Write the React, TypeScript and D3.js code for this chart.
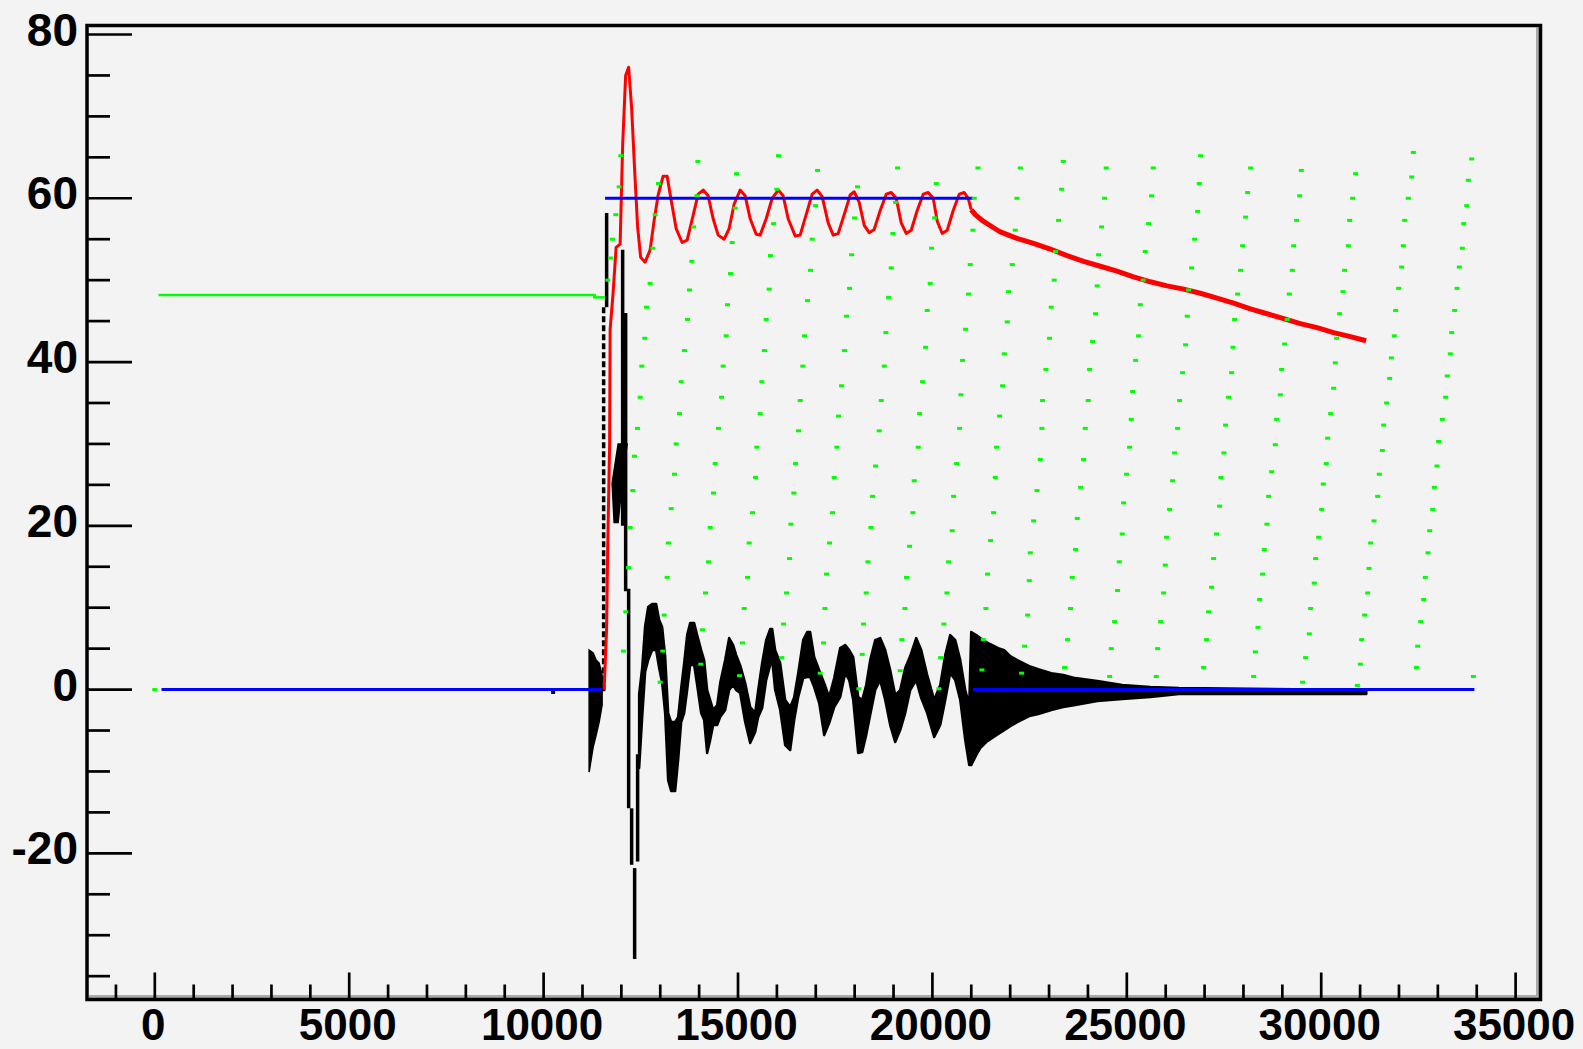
import React from 'react';
import * as d3 from 'd3';

// ---------- axes ----------
const X_DOMAIN: [number, number] = [-1744, 35640];
const Y_DOMAIN: [number, number] = [-37.85, 81.1];
const xMajorTicks = [0, 5000, 10000, 15000, 20000, 25000, 30000, 35000];
const xTickLabels = ['0', '5000', '10000', '15000', '20000', '25000', '30000', '35000'];
const xMinorTicks = [-1000, 1000, 2000, 3000, 4000, 6000, 7000, 8000, 9000, 11000, 12000, 13000, 14000,
  16000, 17000, 18000, 19000, 21000, 22000, 23000, 24000, 26000, 27000, 28000, 29000, 31000, 32000,
  33000, 34000];
const yMajorTicks = [-20, 0, 20, 40, 60, 80];
const yTickLabels = ['-20', '0', '20', '40', '60', '80'];
const yMinorTicks = [-35, -30, -25, -15, -10, -5, 5, 10, 15, 25, 30, 35, 45, 50, 55, 65, 70, 75];

// ---------- blue (set point) ----------
const blueStartT = [172, 11580, 21042];
const blueEndT = [11505, 21042, 33940];
const blueValue = [0, 60, 0];

// ---------- green (flat part before start) ----------
const greenLineStartT = [95, 11270];
const greenLineEndT = [11345, 11580];
const greenLineValue = [48.2, 47.9];

// ---------- green sampled points ----------
const greenDots: [number, number][] = [
  [0, 0],
  [11986, 65.2], [11943, 61.4], [11857, 58.0], [11771, 55.0], [11728, 52.7], [11651, 50.0],
  [12955, 61.8], [12869, 58.0], [12809, 53.9], [12740, 49.6], [12646, 46.7], [12603, 42.9], [12526, 39.5],
  [12483, 35.7], [12415, 31.9], [12337, 28.5], [12294, 24.3], [12226, 19.8], [12183, 14.9], [12114, 9.5], [12054, 4.7],
  [13967, 64.5], [13941, 60.3], [13855, 56.5], [13812, 52.3], [13752, 48.8], [13701, 45.2], [13624, 41.4],
  [13538, 37.6], [13495, 33.7], [13409, 30.0], [13366, 26.3], [13281, 22.1], [13212, 17.9], [13178, 13.7],
  [13101, 9.1], [13066, 4.7], [12998, 0.9],
  [14962, 63.0], [14927, 58.8], [14850, 54.6], [14807, 50.8], [14730, 47.0], [14696, 43.2], [14619, 39.5],
  [14576, 35.7], [14498, 31.9], [14413, 27.6], [14370, 24.0], [14284, 19.8], [14241, 15.6], [14164, 11.8],
  [14087, 7.3], [14044, 3.1],
  [16042, 65.2], [15999, 61.1], [15914, 56.9], [15836, 53.0], [15802, 48.9], [15725, 45.2], [15682, 41.4],
  [15613, 37.6], [15570, 33.7], [15485, 29.6], [15450, 25.9], [15373, 21.6], [15287, 17.9], [15245, 13.7],
  [15159, 9.9], [15116, 5.7], [15039, 1.7],
  [17046, 63.4], [16994, 59.1], [16908, 55.0], [16865, 51.2], [16788, 47.5], [16711, 43.2], [16668, 39.5],
  [16600, 35.3], [16557, 31.6], [16480, 27.6], [16437, 24.0], [16359, 20.2], [16325, 16.0], [16248, 11.8],
  [16171, 8.0], [16128, 3.9],
  [18075, 61.4], [17997, 57.6], [17920, 53.1], [17869, 49.0], [17792, 45.6], [17740, 41.4], [17663, 37.1],
  [17586, 33.4], [17543, 29.6], [17474, 25.9], [17431, 21.6], [17354, 17.9], [17277, 14.1], [17234, 9.9],
  [17200, 5.7], [17114, 2.0],
  [19104, 63.7], [19052, 59.5], [18984, 55.7], [18941, 51.5], [18872, 47.9], [18804, 43.6], [18761, 39.5],
  [18684, 35.3], [18632, 31.6], [18538, 27.3], [18461, 23.6], [18418, 19.8], [18341, 15.6], [18298, 11.8],
  [18229, 8.0], [18195, 4.3], [18109, 0.1],
  [20099, 61.8], [20056, 57.6], [19979, 53.9], [19944, 49.6], [19867, 46.3], [19824, 41.8], [19747, 37.6],
  [19670, 33.7], [19635, 29.6], [19533, 25.5], [19498, 21.6], [19413, 17.5], [19335, 13.7], [19292, 9.9],
  [19215, 6.1], [19172, 2.3],
  [21171, 63.7], [21076, 60.0], [21042, 56.1], [20973, 51.9], [20930, 48.3], [20853, 44.0], [20776, 40.2],
  [20733, 36.0], [20699, 31.9], [20622, 27.6], [20545, 23.6], [20510, 19.4], [20416, 15.6], [20373, 11.8],
  [20296, 8.0], [20210, 3.9], [20167, 0.1],
  [22260, 63.7], [22174, 60.0], [22131, 56.1], [22054, 51.9], [21960, 48.6], [21925, 44.9], [21848, 41.0],
  [21805, 37.1], [21728, 33.4], [21651, 29.6], [21617, 25.9], [21574, 21.6], [21497, 18.2], [21419, 14.1],
  [21376, 9.9], [21308, 6.1], [21274, 2.4],
  [23365, 64.5], [23322, 61.1], [23245, 57.3], [23167, 53.5], [23133, 50.0], [23056, 46.7], [23013, 42.9],
  [22919, 39.1], [22833, 35.3], [22816, 31.9], [22773, 28.1], [22689, 24.3], [22603, 20.6], [22517, 16.7],
  [22491, 13.3], [22449, 9.1], [22371, 5.3], [22294, 2.0],
  [24471, 63.7], [24428, 60.0], [24351, 56.5], [24274, 53.1], [24239, 49.3], [24197, 45.9], [24119, 42.5],
  [24042, 39.1], [24008, 35.3], [23931, 31.9], [23888, 28.1], [23811, 24.7], [23725, 20.9], [23682, 17.1],
  [23596, 13.7], [23553, 9.9], [23476, 6.1], [23399, 2.7],
  [25680, 63.7], [25637, 60.3], [25560, 56.9], [25474, 53.5], [25423, 50.0], [25346, 47.0], [25303, 43.2],
  [25226, 40.2], [25149, 36.4], [25114, 33.0], [25071, 29.6], [24994, 26.3], [24917, 22.8], [24883, 19.0],
  [24806, 15.6], [24763, 12.1], [24685, 8.3], [24600, 5.0], [24557, 1.6],
  [26898, 65.2], [26864, 61.8], [26821, 58.4], [26744, 55.0], [26667, 51.5], [26589, 48.8], [26555, 45.6],
  [26512, 42.1], [26435, 38.7], [26358, 35.3], [26306, 31.9], [26229, 28.9], [26178, 25.5], [26100, 22.0],
  [26023, 18.6], [25989, 15.2], [25946, 11.8], [25869, 8.3], [25792, 5.0], [25757, 1.6],
  [28184, 63.7], [28107, 60.7], [28056, 57.7], [27979, 54.2], [27927, 51.2], [27850, 48.3], [27773, 45.2],
  [27730, 41.8], [27696, 38.7], [27618, 35.7], [27541, 32.3], [27498, 28.9], [27421, 25.9], [27387, 22.4],
  [27310, 19.0], [27233, 16.0], [27181, 12.5], [27104, 9.5], [27052, 6.1], [26975, 2.7],
  [29488, 63.4], [29445, 60.3], [29368, 57.3], [29291, 54.2], [29256, 51.2], [29179, 48.3], [29128, 45.2],
  [29059, 42.2], [28982, 39.1], [28948, 36.0], [28853, 33.0], [28819, 29.9], [28725, 26.6], [28648, 23.6],
  [28605, 20.2], [28536, 17.1], [28493, 14.1], [28416, 11.0], [28373, 7.6], [28305, 4.6], [28262, 1.6],
  [30886, 63.0], [30809, 60.0], [30732, 57.3], [30697, 54.2], [30603, 51.2], [30560, 48.6], [30474, 45.9],
  [30397, 42.9], [30363, 39.9], [30320, 36.8], [30243, 33.7], [30166, 30.7], [30131, 27.6], [30054, 25.1],
  [30011, 22.0], [29934, 18.6], [29857, 16.0], [29822, 13.0], [29728, 9.9], [29694, 6.8], [29599, 3.9], [29522, 0.9],
  [32370, 65.6], [32327, 62.6], [32241, 60.0], [32147, 57.3], [32112, 54.2], [32069, 51.6], [31992, 49.0],
  [31915, 46.3], [31881, 43.2], [31804, 40.5], [31761, 38.0], [31683, 35.0], [31606, 32.3], [31572, 29.2],
  [31495, 26.3], [31452, 23.6], [31358, 20.6], [31272, 17.9], [31229, 14.8], [31195, 11.8], [31117, 9.1],
  [31040, 6.1], [31006, 3.1], [30929, 0.5],
  [33870, 64.8], [33785, 62.2], [33742, 59.1], [33665, 56.9], [33630, 53.9], [33553, 51.6], [33493, 49.0],
  [33433, 46.3], [33356, 43.6], [33321, 41.0], [33244, 38.3], [33201, 35.7], [33116, 33.0], [33021, 30.3],
  [32978, 27.3], [32910, 24.7], [32867, 22.0], [32790, 19.4], [32747, 16.7], [32678, 13.7], [32635, 11.0],
  [32558, 8.3], [32481, 5.3], [32447, 2.7],
  [33913, 1.6],
];

// ---------- red (measured) ----------
const redT = [11557, 11621, 11647, 11698, 11711, 11788, 11865, 11968, 12033, 12110, 12187, 12264, 12341, 12418,
  12496, 12611, 12740, 12843, 12946, 13074, 13177, 13280, 13409, 13563, 13692, 13846, 13975, 14104, 14232,
  14361, 14490, 14644, 14772, 14901, 15055, 15184, 15313, 15467, 15570, 15724, 15879, 16033, 16162, 16290,
  16470, 16599, 16753, 16908, 17036, 17165, 17319, 17448, 17577, 17731, 17885, 17988, 18117, 18246, 18374,
  18503, 18657, 18812, 18940, 19069, 19198, 19326, 19455, 19609, 19764, 19892, 20021, 20124, 20252, 20381,
  20535, 20690, 20818, 20921, 20998];
const redV = [0, 7.6, 17, 30, 44, 48.5, 54, 54.4, 66.5, 75, 76, 71, 63.5, 56.5,
  52.8, 52.2, 53.7, 57.3, 60.4, 62.7, 62.7, 59.8, 56.3, 54.6, 54.9, 57.9, 60.5, 61.0, 60.3,
  57.5, 55.5, 55.0, 56.3, 59.3, 61.0, 60.3, 57.5, 55.6, 55.5, 57.5, 60.0, 61.0, 60.3, 57.5,
  55.4, 55.5, 58.0, 60.5, 61.0, 60.2, 57.0, 55.5, 55.7, 58.0, 60.4, 60.8, 59.5, 56.7, 55.8,
  56.2, 58.5, 60.5, 60.7, 60.0, 57.0, 55.7, 56.1, 58.5, 60.5, 60.7, 60.0, 57.2, 55.7, 56.1,
  58.5, 60.5, 60.7, 60.0, 58.6];
const redTailT = [20998, 21101, 21307, 21572, 21745, 22174, 22601, 23031, 23461, 23888, 24317, 24747, 25174,
  25603, 26033, 26460, 26890, 27320, 27747, 28176, 28606, 29033, 29462, 29892, 30319, 30749, 31153];
const redTailV = [58.6, 58.0, 57.2, 56.4, 55.9, 55.1, 54.5, 53.8, 53.0, 52.3, 51.7, 51.1, 50.4,
  49.8, 49.3, 48.9, 48.4, 47.8, 47.2, 46.5, 45.9, 45.3, 44.7, 44.2, 43.6, 43.1, 42.6];

// ---------- black (measured, noisy -> envelope) ----------
const blackBurstT = [11171, 11274, 11351, 11428, 11505];
const blackBurstLo = [-10.07, -7.02, -5.56, -3.97, -1.89];
const blackBurstHi = [4.82, 4.46, 3.60, 3.24, 1.77];

const blackBlobT = [11917, 12148, 12020, 11917, 11814, 11762];
const blackBlobV = [30.0, 30.0, 25.2, 20.4, 20.4, 25.2];

const blackStickT = [11544, 11621, 12033, 12110, 12187, 12264, 12341, 12418];
const blackStickTop = [46.7, 58.2, 53.7, 46.0, 12.3, -14.5, -21.8, -7.9];
const blackStickBottom = [-0.5, 46.7, 20.0, 12.0, -14.5, -21.4, -32.9, -21.0];
const blackStickDashed = [true, false, false, false, false, false, false, false];

const blackWaveT = [12457, 12534, 12611, 12689, 12792, 12894, 12972, 13049, 13126, 13203, 13280, 13383, 13460,
  13538, 13615, 13692, 13769, 13872, 13949, 14052, 14129, 14206, 14284, 14361, 14464, 14541, 14670, 14772,
  14875, 14953, 15055, 15184, 15313, 15441, 15519, 15621, 15724, 15827, 15879, 15956, 16085, 16213, 16342,
  16445, 16548, 16676, 16779, 16856, 16959, 17088, 17217, 17345, 17474, 17628, 17757, 17860, 17963, 18091,
  18194, 18297, 18400, 18529, 18657, 18786, 18914, 19043, 19172, 19300, 19429, 19583, 19712, 19866, 20046,
  20201, 20330, 20458, 20587, 20716, 20844, 20947, 20998, 21127, 21230, 21384, 21539, 21693, 21847, 22002,
  22182, 22336, 22491, 22722, 23056, 23365, 23674, 24240, 24883, 25603, 26342, 31160];
const blackWaveLo = [-9.58, -3.48, 2.14, 3.60, 4.82, 4.82, 2.63, 0.79, -2.87, -11.05, -12.39, -12.39, -8.61,
  -3.97, -2.87, -0.06, 2.99, 2.99, 0.55, -2.87, -3.72, -7.75, -6.17, -4.33, -4.33, -3.36, -2.50, -0.06,
  0.55, -0.06, -0.43, -3.97, -6.53, -5.19, -3.36, -2.26, 1.16, 2.99, 3.60, -0.06, -2.50, -6.78, -7.39,
  -3.72, -0.92, 1.40, 1.53, 1.53, 0.31, -1.65, -5.56, -4.09, -2.14, -0.92, 2.01, 1.16, -1.28, -7.75,
  -7.63, -5.56, -3.11, -0.06, 1.16, -1.28, -4.33, -6.41, -4.95, -2.87, -0.06, 1.16, -1.04, -2.87, -5.80,
  -4.33, -1.28, 2.01, 1.16, -1.28, -6.17, -9.22, -9.22, -8.00, -7.14, -6.41, -5.92, -5.43, -4.95, -4.46,
  -3.97, -3.60, -3.24, -2.99, -2.50, -2.14, -1.89, -1.40, -1.16, -0.92, -0.55, -0.55];
const blackWaveHi = [-0.55, 2.63, 7.75, 10.07, 10.44, 10.44, 8.49, 7.63, 4.09, -2.87, -3.97, -3.97, -3.36,
  0.18, 3.24, 6.65, 8.12, 8.12, 6.65, 4.82, 3.60, -0.06, -1.28, -2.50, -1.89, 0.79, 3.60, 6.29,
  5.43, 4.21, 2.99, 0.79, -2.14, -2.87, -0.06, 3.24, 6.04, 7.39, 7.39, 4.82, 3.24, -1.28, -2.14,
  -0.92, 2.01, 6.04, 7.02, 7.02, 3.97, 2.38, 0.79, -0.92, 1.40, 5.07, 5.43, 4.82, 3.97, -0.92,
  -1.28, 0.55, 3.60, 6.04, 6.29, 4.82, 2.38, -0.67, -0.06, 2.63, 4.09, 6.29, 4.82, 1.77, -1.28,
  0.55, 4.21, 6.65, 6.04, 3.60, -0.06, -1.89, 7.02, 6.65, 6.29, 5.80, 5.43, 5.07, 4.82, 4.09,
  3.60, 3.24, 2.87, 2.50, 2.01, 1.77, 1.40, 1.04, 0.55, 0.31, 0.18, -0.06];
const blackSpecks: [number, number][] = [[10245, -0.35]];

const FONT = '"Liberation Sans", Arial, Helvetica, sans-serif';

export default function App() {
  const W = 1583;
  const H = 1049;
  const left = 87;
  const right = 1540.5;
  const top = 25.5;
  const bottom = 999.5;

  const x = d3.scaleLinear().domain(X_DOMAIN).range([left, right]);
  const y = d3.scaleLinear().domain(Y_DOMAIN).range([bottom, top]);

  const band = (T: number[], lo: number[], hi: number[]) =>
    d3.area<number>()
      .x((i) => x(T[i]))
      .y0((i) => y(lo[i]))
      .y1((i) => y(hi[i]))(d3.range(T.length)) || '';

  const line = (T: number[], V: number[]) =>
    d3.line<number>().x((i) => x(T[i])).y((i) => y(V[i]))(d3.range(T.length)) || '';

  const burstPath = band(blackBurstT, blackBurstLo, blackBurstHi);
  const wavePath = band(blackWaveT, blackWaveLo, blackWaveHi);
  const blobPath = line(blackBlobT, blackBlobV) + 'Z';
  const redPath = line(redT, redV);
  const redTailPath = line(redTailT, redTailV);

  return (
    <svg
      width={W}
      height={H}
      viewBox={`0 0 ${W} ${H}`}
      style={{ position: 'absolute', left: 0, top: 0, display: 'block' }}
    >
      <rect x={0} y={0} width={W} height={H} fill="#f3f3f3" />

      {/* black trace */}
      <g>
        <path d={burstPath} fill="#000" stroke="#000" strokeWidth={1.5} />
        <path d={blobPath} fill="#000" stroke="#000" strokeWidth={1.5} />
        {blackStickT.map((t, i) => (
          <line
            key={`st${i}`}
            x1={x(t)}
            x2={x(t)}
            y1={y(blackStickTop[i])}
            y2={y(blackStickBottom[i])}
            stroke="#000"
            strokeWidth={3.5}
            strokeDasharray={blackStickDashed[i] ? '6 3' : undefined}
          />
        ))}
        <path d={wavePath} fill="#000" stroke="#000" strokeWidth={2.5} strokeLinejoin="round" />
        {blackSpecks.map(([t, v], i) => (
          <rect key={`bs${i}`} x={x(t) - 2} y={y(v) - 1.5} width={4} height={3} fill="#000" />
        ))}
      </g>

      {/* red trace */}
      <path d={redPath} fill="none" stroke="#ff0000" strokeWidth={3} strokeLinejoin="round" />
      <path d={redTailPath} fill="none" stroke="#ff0000" strokeWidth={5} strokeLinejoin="round" />

      {/* blue set point */}
      {blueStartT.map((t, i) => (
        <line
          key={`bl${i}`}
          x1={x(t)}
          x2={x(blueEndT[i])}
          y1={y(blueValue[i])}
          y2={y(blueValue[i])}
          stroke="#0000ff"
          strokeWidth={3}
        />
      ))}

      {/* green */}
      {greenLineStartT.map((t, i) => (
        <line
          key={`gl${i}`}
          x1={x(t)}
          x2={x(greenLineEndT[i])}
          y1={y(greenLineValue[i])}
          y2={y(greenLineValue[i])}
          stroke="#00ff00"
          strokeWidth={2.5}
        />
      ))}
      {greenDots.map(([t, v], i) => (
        <rect key={`gd${i}`} x={x(t) - 2.5} y={y(v) - 1.5} width={5} height={3} fill="#00ff00" />
      ))}

      {/* frame */}
      <line x1={left + 2} x2={right - 2} y1={bottom - 3} y2={bottom - 3} stroke="#aaaaaa" strokeWidth={3} />
      <line x1={right - 3} x2={right - 3} y1={top + 2} y2={bottom - 2} stroke="#aaaaaa" strokeWidth={3} />
      <rect x={left} y={top} width={right - left} height={bottom - top} fill="none" stroke="#000" strokeWidth={3.5} />

      {/* y axis ticks */}
      {yMinorTicks.map((v) => (
        <line key={`ym${v}`} x1={left} x2={left + 23} y1={y(v)} y2={y(v)} stroke="#000" strokeWidth={2.7} />
      ))}
      {yMajorTicks.map((v) => (
        <line key={`yM${v}`} x1={left} x2={left + 45} y1={y(v)} y2={y(v)} stroke="#000" strokeWidth={2.7} />
      ))}
      {yMajorTicks.map((v, i) => (
        <text
          key={`yl${v}`}
          x={78}
          y={y(v) + 11}
          textAnchor="end"
          fontFamily={FONT}
          fontWeight="bold"
          fontSize={46}
          fill="#000"
        >
          {yTickLabels[i]}
        </text>
      ))}

      {/* x axis ticks */}
      {xMinorTicks.map((t) => (
        <line key={`xm${t}`} x1={x(t)} x2={x(t)} y1={bottom} y2={bottom - 15} stroke="#000" strokeWidth={2.7} />
      ))}
      {xMajorTicks.map((t) => (
        <line key={`xM${t}`} x1={x(t)} x2={x(t)} y1={bottom} y2={bottom - 27} stroke="#000" strokeWidth={2.7} />
      ))}
      {xMajorTicks.map((t, i) => (
        <text
          key={`xl${t}`}
          x={x(t) - 1.5}
          y={1039.5}
          textAnchor="middle"
          fontFamily={FONT}
          fontWeight="bold"
          fontSize={44}
          fill="#000"
        >
          {xTickLabels[i]}
        </text>
      ))}
    </svg>
  );
}
